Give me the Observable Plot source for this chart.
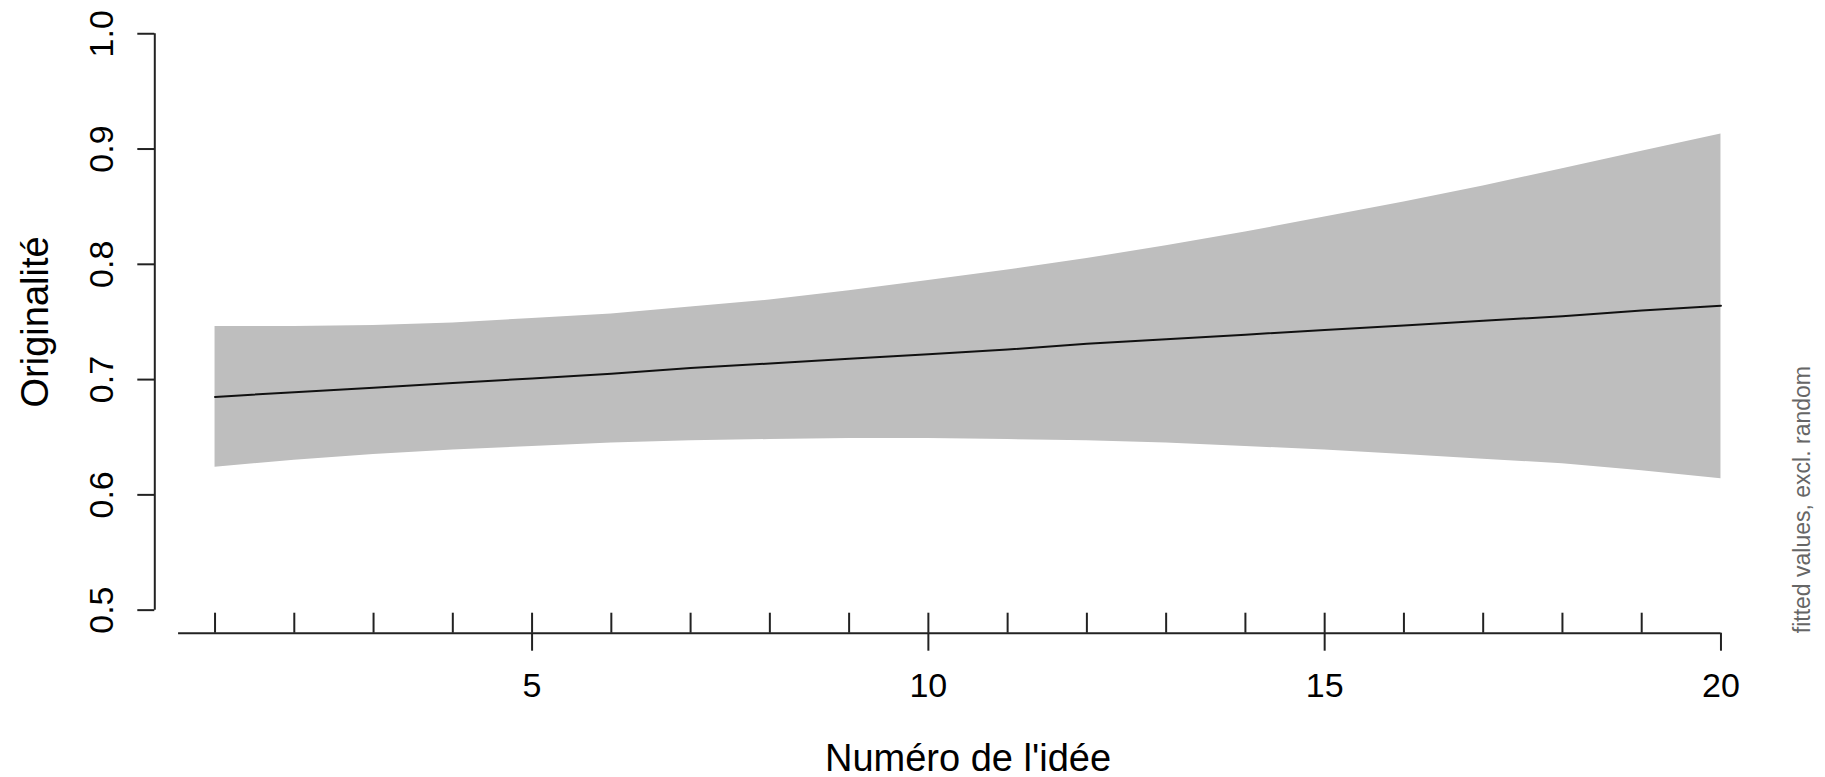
<!DOCTYPE html>
<html>
<head>
<meta charset="utf-8">
<script src="https://cdn.jsdelivr.net/npm/d3@7"></script>
<script src="https://cdn.jsdelivr.net/npm/@observablehq/plot@0.6"></script>
<style>
  html, body { margin: 0; padding: 0; background: #fff; }
  #chart svg { display: block; }
</style>
</head>
<body>
<div id="chart"></div>
<script>
// ---- data ----
const ideas  = [1, 2, 3, 4, 5, 6, 7, 8, 9, 10, 11, 12, 13, 14, 15, 16, 17, 18, 19, 20];
const fitted = [0.685, 0.689, 0.693, 0.697, 0.701, 0.705, 0.710, 0.714, 0.718, 0.722,
                0.726, 0.731, 0.735, 0.739, 0.743, 0.747, 0.751, 0.755, 0.760, 0.764];
const upper  = [0.746, 0.746, 0.747, 0.749, 0.753, 0.757, 0.763, 0.769, 0.777, 0.786,
                0.795, 0.805, 0.816, 0.828, 0.841, 0.854, 0.868, 0.883, 0.898, 0.913];
const lower  = [0.624, 0.630, 0.635, 0.639, 0.642, 0.645, 0.647, 0.648, 0.649, 0.649,
                0.648, 0.647, 0.645, 0.642, 0.639, 0.635, 0.631, 0.627, 0.621, 0.614];

const yTicks      = [0.5, 0.6, 0.7, 0.8, 0.9, 1.0];
const yTickLabels = ["0.5", "0.6", "0.7", "0.8", "0.9", "1.0"];
const xMinorTicks = [1, 2, 3, 4, 5, 6, 7, 8, 9, 10, 11, 12, 13, 14, 15, 16, 17, 18, 19];
const xMajorTicks = [5, 10, 15, 20];
const xTickLabels = ["5", "10", "15", "20"];

const xTitle = "Numéro de l'idée";
const yTitle = "Originalité";
const sideNote = "fitted values, excl. random";

// ---- table built from the arrays ----
const rows = ideas.map((x, i) => ({x, fit: fitted[i], lo: lower[i], hi: upper[i]}));

// R-style plot region (4% extension of the data ranges)
const xDomain = [0.24, 20.76];
const yDomain = [0.48, 1.02];

const W = 1825, H = 777;
const mTop = 10.2, mBottom = 144.3, mLeft = 154.3, mRight = 44.3;
const frameH = H - mTop - mBottom;

const font = "'Liberation Sans', Arial, Helvetica, sans-serif";
const axisColor = "#222";

const chart = Plot.plot({
  width: W,
  height: H,
  marginTop: mTop,
  marginBottom: mBottom,
  marginLeft: mLeft,
  marginRight: mRight,
  style: {fontFamily: font, background: "#fff", overflow: "visible"},
  x: {domain: xDomain, axis: null, label: null},
  y: {domain: yDomain, axis: null, label: null},
  marks: [
    // confidence band
    Plot.areaY(rows, {x: "x", y1: "lo", y2: "hi", fill: "#bebebe", curve: "linear"}),
    // fitted line
    Plot.lineY(rows, {x: "x", y: "fit", stroke: "#111", strokeWidth: 2, curve: "linear"}),

    // y axis line + ticks + labels
    Plot.ruleX([xDomain[0]], {y1: yTicks[0], y2: yTicks[yTicks.length - 1], stroke: axisColor, strokeWidth: 2}),
    Plot.axisY({ticks: yTicks, anchor: "left", tickSize: 17, tickFormat: () => "", label: null, stroke: axisColor, strokeWidth: 2}),
    Plot.text(yTicks, {
      x: xDomain[0], y: d => d, text: (d, i) => yTickLabels[i],
      rotate: -90, dx: -52.6, textAnchor: "middle", lineAnchor: "middle",
      fontSize: 34, fill: "#000"
    }),

    // x axis line, minor (upward) ticks, major (downward) ticks + labels
    Plot.ruleY([yDomain[0]], {x1: 0.54, x2: xMajorTicks[xMajorTicks.length - 1], stroke: axisColor, strokeWidth: 2}),
    Plot.ruleX(xMinorTicks, {insetTop: frameH - 20, stroke: axisColor, strokeWidth: 2}),
    Plot.axisX({ticks: xMajorTicks, anchor: "bottom", tickSize: 18, tickFormat: () => "", label: null, stroke: axisColor, strokeWidth: 2}),
    Plot.text(xMajorTicks, {
      x: d => d, y: yDomain[0], text: (d, i) => xTickLabels[i],
      dy: 53.3, textAnchor: "middle", lineAnchor: "middle",
      fontSize: 34, fill: "#000"
    }),

    // titles
    Plot.text([xTitle], {
      frameAnchor: "bottom", text: d => d, dy: 125.3,
      textAnchor: "middle", lineAnchor: "middle", fontSize: 38, fill: "#000"
    }),
    Plot.text([yTitle], {
      frameAnchor: "left", text: d => d, rotate: -90, dx: -119,
      textAnchor: "middle", lineAnchor: "middle", fontSize: 38, fill: "#000"
    }),
    Plot.text([sideNote], {
      frameAnchor: "bottom-right", text: d => d, rotate: -90, dx: 21,
      textAnchor: "start", lineAnchor: "middle", fontSize: 23, fill: "#666"
    })
  ]
});

document.getElementById("chart").appendChild(chart);
</script>
</body>
</html>
